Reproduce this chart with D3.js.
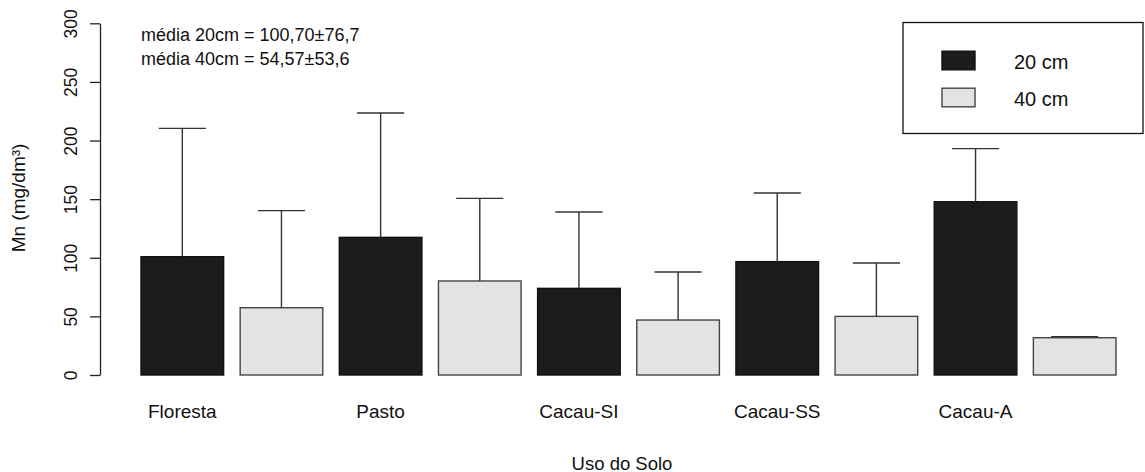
<!DOCTYPE html>
<html>
<head>
<meta charset="utf-8">
<script src="https://cdn.jsdelivr.net/npm/d3@7"></script>
<style>
  html, body { margin: 0; padding: 0; background: #fff; }
  svg { display: block; font-family: "Liberation Sans", Arial, sans-serif; }
</style>
</head>
<body>
<svg id="chart" width="1145" height="472"></svg>
<script>
// Land use categories and Mn content (mg/dm³) at two depths
const categories = ["Floresta", "Pasto", "Cacau-SI", "Cacau-SS", "Cacau-A"];
const depths = ["20 cm", "40 cm"];
const mean20 = [100.9, 117.4, 73.9, 96.7, 147.8];
const sd20   = [109.5, 106.1, 65.1, 58.6, 45.3];
const mean40 = [57.4, 80.2, 46.9, 50.0, 31.8];
const sd40   = [82.8, 70.5, 41.0, 45.5, 0.9];
const yTicks = [0, 50, 100, 150, 200, 250, 300];
const notes = ["média 20cm = 100,70±76,7", "média 40cm = 54,57±53,6"];

const fills = { "20 cm": "#1c1c1c", "40 cm": "#e3e3e3" };

// one bar per category/depth, side by side
const bars = [];
categories.forEach((c, i) => {
  bars.push({ id: c + "|20", cat: c, depth: "20 cm", mean: mean20[i], sd: sd20[i] });
  bars.push({ id: c + "|40", cat: c, depth: "40 cm", mean: mean40[i], sd: sd40[i] });
});

const svg = d3.select("#chart");

const x = d3.scaleBand()
  .domain(bars.map(d => d.id))
  .range([141, 1116])
  .paddingInner(0.2 / 1.2)
  .paddingOuter(0);

const y = d3.scaleLinear().domain([0, 300]).range([375, 23.3]);

// y axis (values rotated, as in base R graphics)
const yAxis = svg.append("g")
  .attr("transform", "translate(100,0)")
  .call(d3.axisLeft(y).tickValues(yTicks).tickSize(10).tickSizeOuter(0));
yAxis.select(".domain").attr("stroke", "#222").attr("stroke-width", 1.3);
yAxis.selectAll(".tick line").attr("stroke", "#222").attr("stroke-width", 1.3);
yAxis.selectAll(".tick text")
  .attr("x", null).attr("dy", null)
  .attr("transform", "translate(-29,0) rotate(-90)")
  .attr("text-anchor", "middle")
  .attr("dominant-baseline", "central")
  .attr("font-size", 17.5)
  .attr("font-family", "Liberation Sans, Arial, sans-serif")
  .attr("fill", "#111");

// bars
svg.append("g").selectAll("rect")
  .data(bars)
  .join("rect")
  .attr("x", d => x(d.id))
  .attr("width", x.bandwidth())
  .attr("y", d => y(d.mean))
  .attr("height", d => y(0) - y(d.mean))
  .attr("fill", d => fills[d.depth])
  .attr("stroke", d => d.depth === "20 cm" ? "#111" : "#444")
  .attr("stroke-width", 1.4);

// upper error bars (mean + sd)
const capHalf = x.bandwidth() * 0.285;
const err = svg.append("g").attr("stroke", "#333").attr("stroke-width", 1.4);
err.selectAll("line.v")
  .data(bars)
  .join("line")
  .attr("class", "v")
  .attr("x1", d => x(d.id) + x.bandwidth() / 2)
  .attr("x2", d => x(d.id) + x.bandwidth() / 2)
  .attr("y1", d => y(d.mean))
  .attr("y2", d => y(d.mean + d.sd));
err.selectAll("line.cap")
  .data(bars)
  .join("line")
  .attr("class", "cap")
  .attr("x1", d => x(d.id) + x.bandwidth() / 2 - capHalf)
  .attr("x2", d => x(d.id) + x.bandwidth() / 2 + capHalf)
  .attr("y1", d => y(d.mean + d.sd))
  .attr("y2", d => y(d.mean + d.sd));

// category names under the first bar of each pair
svg.append("g").selectAll("text")
  .data(categories)
  .join("text")
  .attr("x", c => x(c + "|20") + x.bandwidth() / 2)
  .attr("y", 411)
  .attr("text-anchor", "middle")
  .attr("dominant-baseline", "central")
  .attr("font-size", 19)
  .attr("fill", "#111")
  .text(c => c);

// axis titles
svg.append("text")
  .attr("x", 622).attr("y", 463)
  .attr("text-anchor", "middle")
  .attr("dominant-baseline", "central")
  .attr("font-size", 18.5)
  .attr("fill", "#111")
  .text("Uso do Solo");

svg.append("text")
  .attr("transform", "translate(18,198) rotate(-90)")
  .attr("text-anchor", "middle")
  .attr("dominant-baseline", "central")
  .attr("font-size", 19)
  .attr("fill", "#111")
  .text("Mn (mg/dm³)");

// summary notes
svg.append("g").selectAll("text")
  .data(notes)
  .join("text")
  .attr("x", 141)
  .attr("y", (d, i) => 35 + i * 23.5)
  .attr("dominant-baseline", "central")
  .attr("font-size", 18)
  .attr("fill", "#111")
  .text(d => d);

// legend
const lg = svg.append("g");
lg.append("rect")
  .attr("x", 903).attr("y", 22.5)
  .attr("width", 240).attr("height", 111)
  .attr("fill", "#fff").attr("stroke", "#111").attr("stroke-width", 1.3);
const items = lg.selectAll("g.item")
  .data(depths)
  .join("g")
  .attr("class", "item")
  .attr("transform", (d, i) => `translate(0,${60.5 + i * 37})`);
items.append("rect")
  .attr("x", 942).attr("y", -9.3)
  .attr("width", 33).attr("height", 18.6)
  .attr("fill", d => fills[d])
  .attr("stroke", d => d === "20 cm" ? "#111" : "#444")
  .attr("stroke-width", 1.4);
items.append("text")
  .attr("x", 1014).attr("y", 1.5)
  .attr("dominant-baseline", "central")
  .attr("font-size", 20)
  .attr("fill", "#111")
  .text(d => d);
</script>
</body>
</html>
